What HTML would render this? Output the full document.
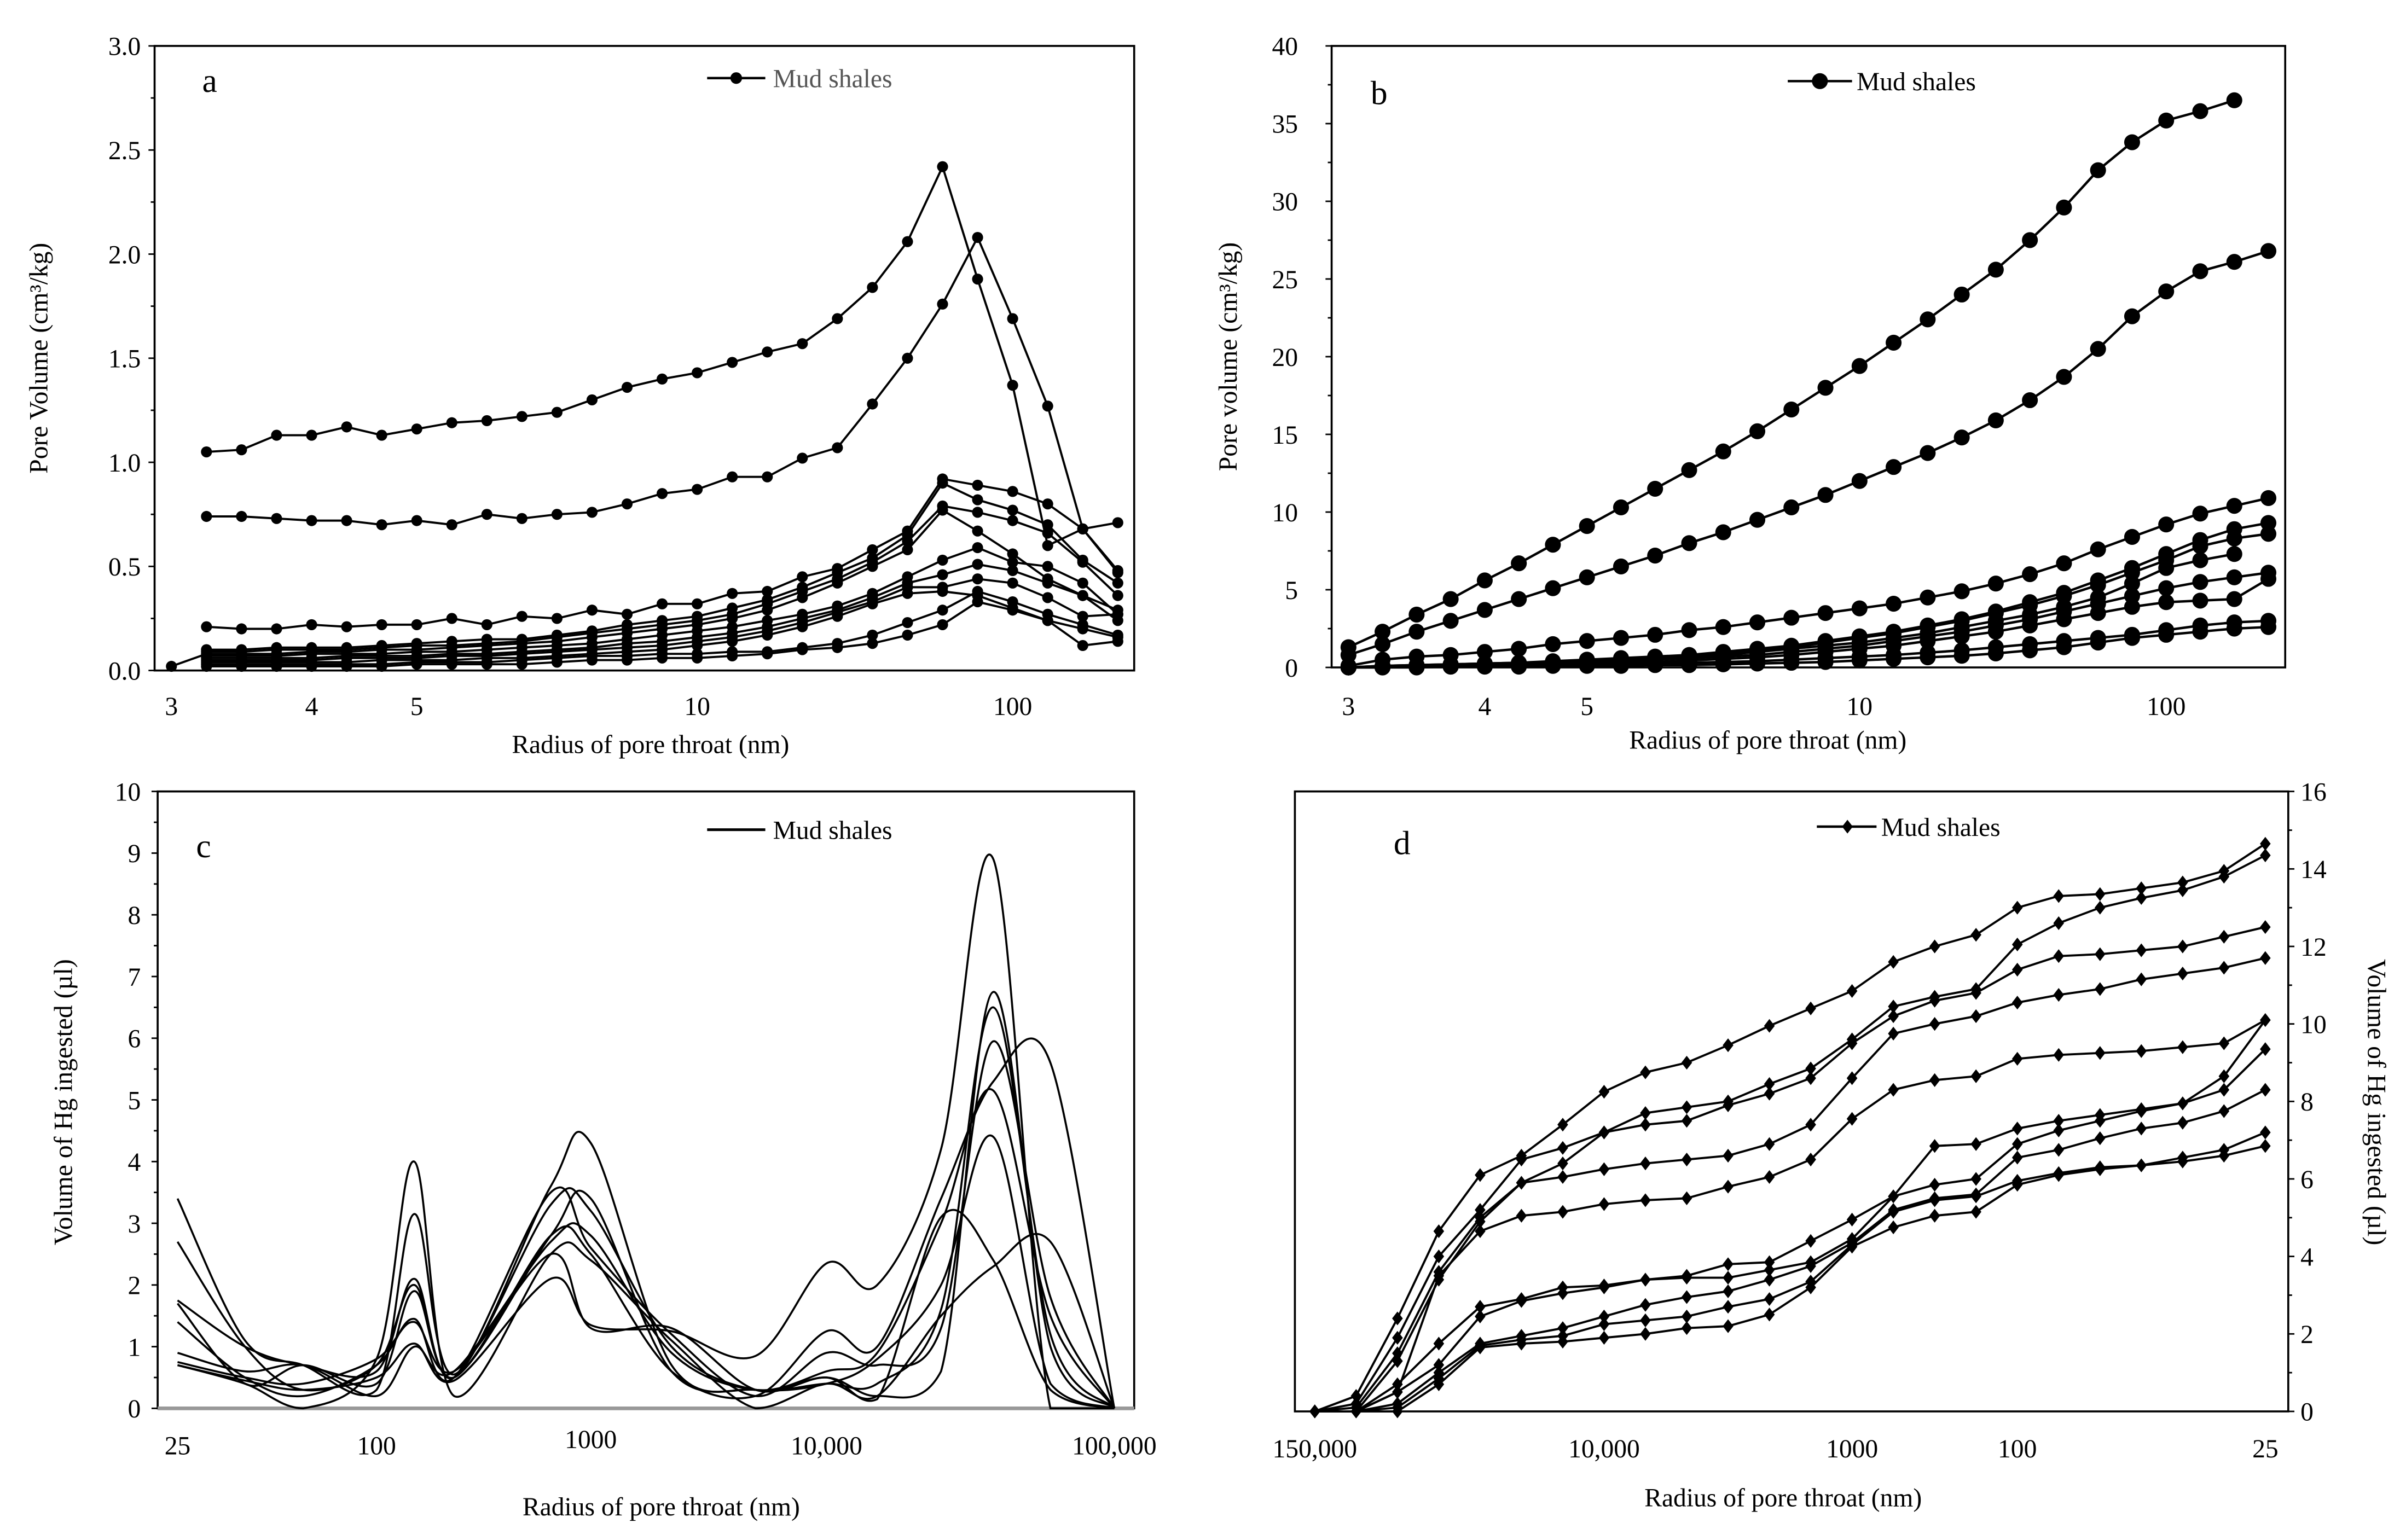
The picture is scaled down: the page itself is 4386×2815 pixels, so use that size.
<!DOCTYPE html>
<html><head><meta charset="utf-8"><style>
html,body{margin:0;padding:0;background:#fff}
svg{display:block}
text{font-family:"Liberation Serif",serif;fill:#000}
</style></head><body>
<svg id="fig" width="4386" height="2815" viewBox="0 0 1568 1006" preserveAspectRatio="none" font-family="Liberation Serif, serif" xmlns="http://www.w3.org/2000/svg">
<rect x="0" y="0" width="1568" height="1006" fill="#fff"/>
</svg>
<script>
// ---------- Panel a data ----------
const aTickLabels=["3","4","5","10","100"];
const aTickIdx=[0,4,7,15,24];
const aYTicks=["0.0","0.5","1.0","1.5","2.0","2.5","3.0"];
const aS1=[null,1.05,1.06,1.13,1.13,1.17,1.13,1.16,1.19,1.20,1.22,1.24,1.30,1.36,1.40,1.43,1.48,1.53,1.57,1.69,1.84,2.06,2.42,1.88,1.37,0.60,0.68,0.71];
const aS2=[null,0.74,0.74,0.73,0.72,0.72,0.70,0.72,0.70,0.75,0.73,0.75,0.76,0.80,0.85,0.87,0.93,0.93,1.02,1.07,1.28,1.50,1.76,2.08,1.69,1.27,0.68,0.47];
const aS3=[null,0.21,0.20,0.20,0.22,0.21,0.22,0.22,0.25,0.22,0.26,0.25,0.29,0.27,0.32,0.32,0.37,0.38,0.45,0.49,0.58,0.67,0.92,0.89,0.86,0.80,0.68,0.48];
const aS4=[null,0.10,0.10,0.11,0.11,0.11,0.12,0.13,0.14,0.15,0.15,0.17,0.19,0.22,0.24,0.26,0.30,0.34,0.40,0.47,0.54,0.65,0.90,0.82,0.77,0.70,0.53,0.42];
const aS5=[null,0.09,0.09,0.10,0.10,0.10,0.11,0.12,0.12,0.13,0.14,0.16,0.18,0.20,0.22,0.24,0.27,0.32,0.38,0.44,0.52,0.62,0.79,0.76,0.72,0.66,0.52,0.36];
const aS6=[0.02,0.08,0.08,0.08,0.09,0.09,0.10,0.10,0.11,0.12,0.13,0.14,0.16,0.18,0.20,0.22,0.25,0.29,0.35,0.42,0.50,0.58,0.77,0.67,0.56,0.44,0.36,0.29];
const aS7=[null,0.07,0.07,0.07,0.08,0.08,0.08,0.09,0.09,0.10,0.11,0.12,0.13,0.15,0.17,0.19,0.21,0.24,0.27,0.31,0.37,0.45,0.53,0.59,0.52,0.50,0.42,0.27];
const aS8=[null,0.06,0.06,0.06,0.06,0.07,0.07,0.07,0.08,0.08,0.09,0.10,0.11,0.13,0.14,0.16,0.18,0.21,0.25,0.29,0.35,0.42,0.46,0.51,0.48,0.42,0.36,0.24];
const aS9=[null,0.05,0.05,0.05,0.05,0.06,0.06,0.06,0.07,0.07,0.08,0.09,0.10,0.11,0.12,0.14,0.16,0.19,0.23,0.28,0.33,0.40,0.40,0.44,0.42,0.35,0.26,0.27];
const aS10=[null,0.04,0.04,0.04,0.04,0.04,0.05,0.05,0.05,0.06,0.06,0.07,0.08,0.09,0.10,0.12,0.14,0.17,0.21,0.26,0.32,0.37,0.38,0.36,0.30,0.24,0.20,0.16];
const aS11=[null,0.02,0.02,0.02,0.02,0.02,0.02,0.03,0.03,0.03,0.03,0.04,0.05,0.05,0.06,0.06,0.07,0.08,0.10,0.11,0.13,0.17,0.22,0.33,0.29,0.24,0.12,0.14];
const aS12=[null,0.03,0.03,0.03,0.03,0.03,0.03,0.04,0.04,0.04,0.05,0.06,0.07,0.07,0.08,0.08,0.09,0.09,0.11,0.13,0.17,0.23,0.29,0.38,0.33,0.27,0.22,0.17];
const aSeries=[aS1,aS2,aS3,aS4,aS5,aS6,aS7,aS8,aS9,aS10,aS11,aS12];

// ---------- Panel b data ----------
const bTickLabels=["3","4","5","10","100"];
const bTickIdx=[0,4,7,15,24];
const bYTicks=["0","5","10","15","20","25","30","35","40"];
const bS1=[1.3,2.3,3.4,4.4,5.6,6.7,7.9,9.1,10.3,11.5,12.7,13.9,15.2,16.6,18.0,19.4,20.9,22.4,24.0,25.6,27.5,29.6,32.0,33.8,35.2,35.8,36.5];
const bS2=[0.8,1.5,2.3,3.0,3.7,4.4,5.1,5.8,6.5,7.2,8.0,8.7,9.5,10.3,11.1,12.0,12.9,13.8,14.8,15.9,17.2,18.7,20.5,22.6,24.2,25.5,26.1,26.8];
const bS3=[0.1,0.5,0.7,0.8,1.0,1.2,1.5,1.7,1.9,2.1,2.4,2.6,2.9,3.2,3.5,3.8,4.1,4.5,4.9,5.4,6.0,6.7,7.6,8.4,9.2,9.9,10.4,10.9];
const bS4=[0.0,0.1,0.15,0.2,0.25,0.3,0.4,0.5,0.6,0.7,0.8,1.0,1.2,1.4,1.7,2.0,2.3,2.7,3.1,3.6,4.2,4.8,5.6,6.4,7.3,8.2,8.9,9.3];
const bS5=[0.0,0.1,0.15,0.2,0.25,0.3,0.35,0.45,0.55,0.65,0.8,0.95,1.1,1.3,1.6,1.9,2.2,2.6,3.0,3.5,4.0,4.6,5.3,6.1,6.9,7.8,8.3,8.6];
const bS6=[0.0,0.05,0.1,0.15,0.2,0.25,0.3,0.4,0.5,0.6,0.7,0.8,1.0,1.2,1.4,1.6,1.9,2.2,2.6,3.0,3.4,3.9,4.5,5.4,6.4,6.9,7.3];
const bS7=[0.0,0.05,0.1,0.1,0.15,0.2,0.25,0.3,0.4,0.5,0.6,0.7,0.8,1.0,1.2,1.4,1.7,2.0,2.3,2.7,3.1,3.6,4.1,4.6,5.1,5.5,5.8,6.1];
const bS8=[0.0,0.05,0.05,0.1,0.1,0.15,0.2,0.25,0.3,0.35,0.45,0.55,0.65,0.8,1.0,1.2,1.4,1.7,2.0,2.3,2.7,3.1,3.5,3.9,4.2,4.3,4.4,5.7];
const bS9=[0.0,0.0,0.05,0.05,0.1,0.1,0.15,0.15,0.2,0.25,0.3,0.35,0.4,0.5,0.6,0.7,0.8,0.95,1.1,1.3,1.5,1.7,1.9,2.1,2.4,2.7,2.9,3.0];
const bS10=[0.0,0.0,0.0,0.05,0.05,0.05,0.1,0.1,0.1,0.15,0.15,0.2,0.25,0.3,0.35,0.45,0.55,0.65,0.75,0.9,1.1,1.3,1.6,1.9,2.1,2.3,2.5,2.6];
const bSeries=[bS1,bS2,bS3,bS4,bS5,bS6,bS7,bS8,bS9,bS10];

// ---------- Panel c data (radius nm, volume µl) ----------
const cTickLabels=["25","100","1000","10,000","100,000"];
const cTickVals=[25,100,1000,10000,100000];
const cYTicks=["0","1","2","3","4","5","6","7","8","9","10"];
const cR=[25,40,60,100,150,230,650,1000,2200,5000,10000,15000,25000,38000,60000,100000];
const cC1=[0.7,0.45,0.3,0.5,1.05,0.45,2.1,1.35,1.25,0.85,2.35,2.0,4.2,8.9,0,0];
const cC2=[1.75,1.0,0.7,0.6,2.1,0.5,3.3,3.2,1.0,0.3,0.5,0.2,0.6,6.75,1.0,0];
const cC3=[3.4,1.1,0.7,0.3,3.15,0.55,3.6,4.3,0.7,0.3,0.4,0.4,1.6,6.5,1.2,0];
const cC4=[1.4,0.5,0.2,0.7,1.45,0.5,3.5,2.6,1.2,0.2,0.9,0.7,1.3,5.95,1.8,0];
const cC5=[2.7,1.0,0.3,0.7,2.0,0.5,2.8,2.5,0.6,0.2,1.25,1.0,3.4,5.3,5.6,0];
const cC6=[0.9,0.6,0.7,0.2,1.0,0.6,2.7,2.8,0.9,0.3,0.6,0.9,3.0,5.15,1.5,0];
const cC7=[1.7,0.4,0.7,0.4,1.9,0.5,2.8,3.4,0.6,0.3,0.4,0.8,2.0,4.4,0.4,0];
const cC8=[0.75,0.5,0.4,0.8,1.4,0.6,2.5,1.3,1.3,0.3,0.5,0.15,3.1,2.4,0.3,0];
const cC9=[0.7,0.4,0.0,0.8,4.0,0.2,2.5,2.4,1.1,0.0,0.4,0.2,1.5,2.3,2.7,0];
const cSeries=[cC1,cC2,cC3,cC4,cC5,cC6,cC7,cC8,cC9];

// ---------- Panel d data ----------
const dTickLabels=["150,000","10,000","1000","100","25"];
const dTickIdx=[0,7,13,17,23];
const dYTicks=["0","2","4","6","8","10","12","14","16"];
const dS1=[0,0.4,2.4,4.65,6.1,6.6,7.4,8.25,8.75,9.0,9.45,9.95,10.4,10.85,11.6,12.0,12.3,13.0,13.3,13.35,13.5,13.65,13.95,14.65];
const dS2=[0,0.2,1.9,4.0,5.2,6.5,6.8,7.2,7.7,7.85,8.0,8.45,8.85,9.6,10.45,10.7,10.9,12.05,12.6,13.0,13.25,13.45,13.8,14.35];
const dS3=[0,0.1,1.5,3.6,5.0,5.9,6.4,7.2,7.4,7.5,7.9,8.2,8.6,9.5,10.2,10.6,10.8,11.4,11.75,11.8,11.9,12.0,12.25,12.5];
const dS4=[0,0,1.3,3.4,4.9,5.9,6.05,6.25,6.4,6.5,6.6,6.9,7.4,8.6,9.75,10.0,10.2,10.55,10.75,10.9,11.15,11.3,11.45,11.7];
const dS5=[0,0,0.5,3.5,4.65,5.05,5.15,5.35,5.45,5.5,5.8,6.05,6.5,7.55,8.3,8.55,8.65,9.1,9.2,9.25,9.3,9.4,9.5,10.1];
const dS6=[0,0,0.7,1.75,2.7,2.9,3.2,3.25,3.4,3.5,3.8,3.85,4.4,4.95,5.55,6.85,6.9,7.3,7.5,7.65,7.8,7.95,8.3,9.35];
const dS7=[0,0,0.5,1.2,2.45,2.85,3.05,3.2,3.4,3.45,3.45,3.65,3.85,4.45,5.55,5.85,6.0,6.9,7.25,7.5,7.75,7.95,8.65,10.1];
const dS8=[0,0,0.2,1.0,1.75,1.95,2.15,2.45,2.75,2.95,3.1,3.4,3.75,4.35,5.2,5.5,5.6,6.55,6.75,7.05,7.3,7.45,7.75,8.3];
const dS9=[0,0,0.1,0.85,1.7,1.85,1.95,2.25,2.35,2.45,2.7,2.9,3.35,4.3,5.15,5.45,5.55,5.95,6.15,6.3,6.35,6.55,6.75,7.2];
const dS10=[0,0,0,0.7,1.65,1.75,1.8,1.9,2.0,2.15,2.2,2.5,3.2,4.25,4.75,5.05,5.15,5.85,6.1,6.25,6.35,6.45,6.6,6.85];
const dSeries=[dS1,dS2,dS3,dS4,dS5,dS6,dS7,dS8,dS9,dS10];

const NS="http://www.w3.org/2000/svg";
const svg=document.getElementById('fig');
function mk(tag,attrs,parent){const e=document.createElementNS(NS,tag);for(const k in attrs)e.setAttribute(k,attrs[k]);(parent||svg).appendChild(e);return e;}
function txt(s,x,y,size,anchor,parent){const t=mk('text',{x:x,y:y,'font-size':size,'text-anchor':anchor||'middle'},parent);t.textContent=s;return t;}

function frame(g,L,R,T,B){const r=mk('rect',{x:L,y:T,width:R-L,height:B-T,fill:'none',stroke:'#000','stroke-width':1.3},g);

}

function polyline(g,pts,w){const d=pts.map((p,i)=>(i?'L':'M')+p[0].toFixed(2)+' '+p[1].toFixed(2)).join(' ');
const p=mk('path',{d:d,fill:'none',stroke:'#000','stroke-width':w||1.4,'stroke-linejoin':'round'},g);return p;}

// ===== Panel a =====
(function(){
const g=mk('g',{});


const L=101,R=741,T=30,B=438;
const x=i=>112+i*22.9, y=v=>B-(v/3)*(B-T);
frame(g,L,R,T,B);
aYTicks.forEach((s,i)=>{const v=i*0.5;const t=txt(s,92,y(v)+6,17,'end',g);


mk('line',{x1:L-4,x2:L,y1:y(v),y2:y(v),stroke:'#000','stroke-width':1},g);
if(i<6)mk('line',{x1:L-2.5,x2:L,y1:y(v+0.25),y2:y(v+0.25),stroke:'#000','stroke-width':1},g);});
aTickLabels.forEach((s,i)=>{const t=txt(s,x(aTickIdx[i]),467,17,'middle',g);

});
aSeries.forEach((s,k)=>{const pts=[];s.forEach((v,i)=>{if(v!==null)pts.push([x(i),y(v)]);});
const p=polyline(g,pts,1.4);


pts.forEach(q=>{const c=mk('circle',{cx:q[0],cy:q[1],r:3.6,fill:'#000'},g);

});});
const tl=txt('a',137,60,22,'middle',g);


const ty=txt('Pore Volume (cm³/kg)',0,0,17,'middle',g);ty.setAttribute('transform','translate(31,234) rotate(-90)');


const tx=txt('Radius of pore throat (nm)',425,492,17,'middle',g);


const lg=mk('g',{},g);


mk('line',{x1:462,x2:500,y1:51,y2:51,stroke:'#000','stroke-width':1.6},lg);mk('circle',{cx:481,cy:51,r:3.8,fill:'#000'},lg);
const lt=txt('Mud shales',505,57,17,'start',lg);lt.style.fill='#555';
})();

// ===== Panel b =====
(function(){
const g=mk('g',{});


const L=870,R=1493,T=30,B=436;
const x=i=>881+i*22.26, y=v=>B-(v/40)*(B-T);
frame(g,L,R,T,B);
bYTicks.forEach((s,i)=>{const v=i*5;const t=txt(s,848,y(v)+6,17,'end',g);


mk('line',{x1:L-4,x2:L,y1:y(v),y2:y(v),stroke:'#000','stroke-width':1},g);
if(i<8)mk('line',{x1:L-2.5,x2:L,y1:y(v+2.5),y2:y(v+2.5),stroke:'#000','stroke-width':1},g);});
bTickLabels.forEach((s,i)=>{const t=txt(s,x(bTickIdx[i]),467,17,'middle',g);

});
bSeries.forEach(s=>{const pts=s.map((v,i)=>[x(i),y(v)]);
const p=polyline(g,pts,1.6);


pts.forEach(q=>{const c=mk('circle',{cx:q[0],cy:q[1],r:5.2,fill:'#000'},g);

});});
const tl=txt('b',901,68,22,'middle',g);


const ty=txt('Pore volume (cm³/kg)',0,0,17,'middle',g);ty.setAttribute('transform','translate(808,233) rotate(-90)');


const tx=txt('Radius of pore throat (nm)',1155,489,17,'middle',g);


const lg=mk('g',{},g);


mk('line',{x1:1168,x2:1210,y1:53,y2:53,stroke:'#000','stroke-width':1.6},lg);mk('circle',{cx:1189,cy:53,r:5.2,fill:'#000'},lg);
txt('Mud shales',1213,59,17,'start',lg);
})();

// ===== Panel c =====
(function(){
const g=mk('g',{});


const L=103,R=741,T=517,B=920;
const ax=[Math.log10(25),2,3,4,5], apx=[116,246,386,540,728];
const x=r=>{const l=Math.log10(r);let k=0;while(k<ax.length-2&&l>ax[k+1])k++;return apx[k]+(l-ax[k])/(ax[k+1]-ax[k])*(apx[k+1]-apx[k]);};
const y=v=>B-(v/10)*(B-T);
frame(g,L,R,T,B);
mk('line',{x1:L,x2:R,y1:B,y2:B,stroke:'#999','stroke-width':2.4},g);
cYTicks.forEach((s,i)=>{const t=txt(s,92,y(i)+6,17,'end',g);


mk('line',{x1:L-4,x2:L,y1:y(i),y2:y(i),stroke:'#000','stroke-width':1},g);
if(i<10)mk('line',{x1:L-2.5,x2:L,y1:y(i+0.5),y2:y(i+0.5),stroke:'#000','stroke-width':1},g);});
cTickLabels.forEach((s,i)=>{const t=txt(s,x(cTickVals[i]),i===2?946:950,17,'middle',g);

});
cSeries.forEach(s=>{const P=s.map((v,i)=>[x(cR[i]),y(v)]);
let d='M'+P[0][0]+' '+P[0][1];
for(let i=0;i<P.length-1;i++){const p0=P[Math.max(0,i-1)],p1=P[i],p2=P[i+1],p3=P[Math.min(P.length-1,i+2)];
const c1=[p1[0]+(p2[0]-p0[0])/6,p1[1]+(p2[1]-p0[1])/6],c2=[p2[0]-(p3[0]-p1[0])/6,p2[1]-(p3[1]-p1[1])/6];
c1[1]=Math.min(c1[1],B);c2[1]=Math.min(c2[1],B);
d+=' C'+c1[0].toFixed(2)+' '+c1[1].toFixed(2)+' '+c2[0].toFixed(2)+' '+c2[1].toFixed(2)+' '+p2[0].toFixed(2)+' '+p2[1].toFixed(2);}
const p=mk('path',{d:d,fill:'none',stroke:'#000','stroke-width':1.3},g);

});
const tl=txt('c',133,560,22,'middle',g);


const ty=txt('Volume of Hg ingested (µl)',0,0,17,'middle',g);ty.setAttribute('transform','translate(47,720) rotate(-90)');


const tx=txt('Radius of pore throat (nm)',432,990,17,'middle',g);


const lg=mk('g',{},g);


mk('line',{x1:462,x2:500,y1:542,y2:542,stroke:'#000','stroke-width':1.8},lg);
txt('Mud shales',505,548,17,'start',lg);
})();

// ===== Panel d =====
(function(){
const g=mk('g',{});


const L=846,R=1495,T=517,B=922;
const x=i=>859+i*27, y=v=>B-(v/16)*(B-T);
frame(g,L,R,T,B);
dYTicks.forEach((s,i)=>{const v=i*2;const t=txt(s,1503,y(v)+6,17,'start',g);


mk('line',{x1:R,x2:R+4,y1:y(v),y2:y(v),stroke:'#000','stroke-width':1},g);
if(i<8)mk('line',{x1:R,x2:R+2.5,y1:y(v+1),y2:y(v+1),stroke:'#000','stroke-width':1},g);});
dTickLabels.forEach((s,i)=>{const t=txt(s,x(dTickIdx[i]),952,17,'middle',g);

});
dSeries.forEach(s=>{const pts=s.map((v,i)=>[x(i),y(v)]);
const p=polyline(g,pts,1.4);


pts.forEach(q=>{const m=mk('path',{d:'M'+q[0]+' '+(q[1]-4.5)+' l3.5 4.5 l-3.5 4.5 l-3.5 -4.5 z',fill:'#000'},g);

});});
const tl=txt('d',916,558,22,'middle',g);


const ty=txt('Volume of Hg ingested (µl)',0,0,17,'middle',g);ty.setAttribute('transform','translate(1547,720) rotate(90)');


const tx=txt('Radius of pore throat (nm)',1165,984,17,'middle',g);


const lg=mk('g',{},g);


mk('line',{x1:1187,x2:1226,y1:540,y2:540,stroke:'#000','stroke-width':1.6},lg);
mk('path',{d:'M1207 535.5 l3.5 4.5 l-3.5 4.5 l-3.5 -4.5 z',fill:'#000'},lg);
txt('Mud shales',1229,546,17,'start',lg);
})();
</script>
</body></html>
